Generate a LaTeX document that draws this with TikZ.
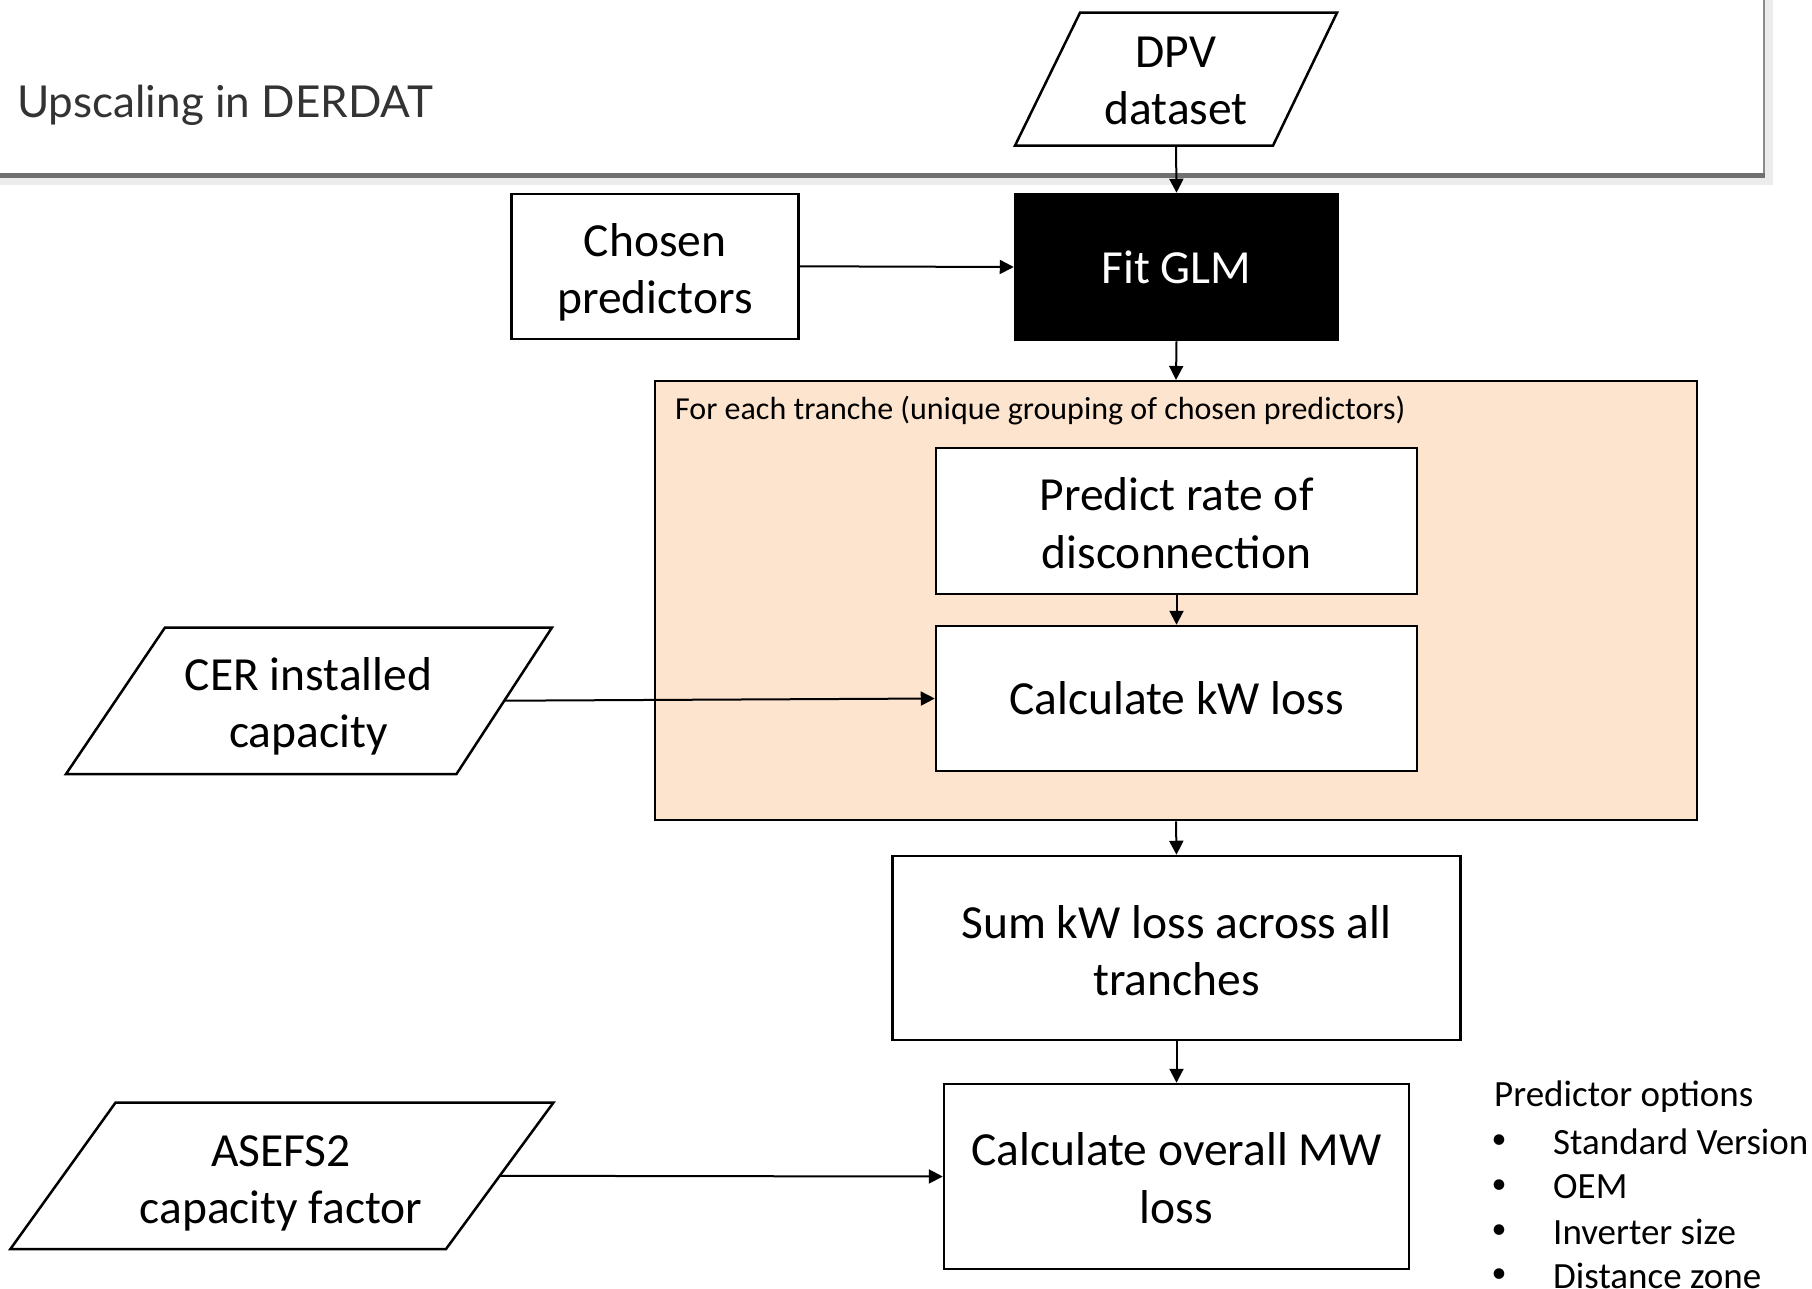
\documentclass[tikz,border=0pt]{standalone}
\usepackage{fontspec}
\setmainfont{Carlito}
\newfontfamily\headfont{Lato}
\usetikzlibrary{arrows.meta}
\definecolor{peach}{RGB}{253,228,206}
\definecolor{bandgray}{RGB}{112,112,112}
\definecolor{shadowgray}{RGB}{236,236,236}
\definecolor{edgegray}{RGB}{140,140,140}
\tikzset{
  boxstyle/.style={draw=black, line width=2.5pt, fill=white},
  txt/.style={font=\fontsize{47.5}{57.5}\selectfont, align=center, inner sep=0pt},
  conn/.style={line width=2pt, -{Triangle[length=14pt,width=14pt]}},
  smalltxt/.style={font=\fontsize{37}{45}\selectfont, inner sep=0pt, anchor=west},
  bulletstyle/.style={font=\fontsize{30}{45}\selectfont, inner sep=0pt}
}
\begin{document}
\begin{tikzpicture}[x=1pt,y=-1pt]
\useasboundingbox (0,0) rectangle (1812,1288);
% header panel
\fill[shadowgray] (0,178) rectangle (1765,185);
\fill[shadowgray] (1765,0) rectangle (1773,185);
\draw[edgegray, line width=1.5pt] (1764,0) -- (1764,173);
\fill[bandgray] (0,172.5) rectangle (1765,178);
\node[font=\headfont\fontsize{44}{52}\selectfont, text=black!80, anchor=west, inner sep=0pt] (title) at (17,105) {Upscaling in DERDAT};

% DPV dataset parallelogram
\draw[boxstyle] (1080,12.7) -- (1337,12.7) -- (1273,145.6) -- (1015,145.6) -- cycle;
\node[txt] (dpv) at (1176,81) {DPV\\dataset};
\coordinate (dpvS) at (1176,145.6);

% Chosen predictors
\node[boxstyle, minimum width=287pt, minimum height=145pt, inner sep=0pt] (chosenbox) at (655,266.3) {};
\node[txt] (chosen) at (655,272.2) {Chosen\\predictors};

% Fit GLM
\node[draw=black, fill=black, line width=2.5pt, minimum width=323pt, minimum height=146pt, inner sep=0pt, text=white, font=\fontsize{47.5}{57.5}\selectfont] (glm) at (1176.5,267) {Fit GLM};

% Tranche container
\node[draw=black, fill=peach, line width=2.5pt, minimum width=1042pt, minimum height=439pt, inner sep=0pt] (tranche) at (1176,600.7) {};
\node[font=\fontsize{32}{38}\selectfont, anchor=west, inner sep=0pt] (tranchelbl) at (675,411) {For each tranche (unique grouping of chosen predictors)};

% Predict
\node[boxstyle, minimum width=481pt, minimum height=146pt, inner sep=0pt] (predictbox) at (1176.5,521) {};
\node[txt] (predict) at (1176.5,523) {Predict rate of\\disconnection};

% Calculate kW loss
\node[boxstyle, minimum width=481pt, minimum height=145pt, inner sep=0pt, font=\fontsize{47.5}{57.5}\selectfont] (calc) at (1176.5,698.5) {Calculate kW loss};

% CER parallelogram
\draw[boxstyle] (165,627.5) -- (552,627.5) -- (456.5,774) -- (66,774) -- cycle;
\node[txt] (cer) at (308.5,706.1) {CER installed\\capacity};
\coordinate (cerE) at (504.3,700.7);

% Sum
\node[boxstyle, minimum width=568pt, minimum height=184pt, inner sep=0pt] (sumbox) at (1176.5,948) {};
\node[txt] (sum) at (1176.5,950.5) {Sum kW loss across all\\tranches};

% MW loss
\node[boxstyle, minimum width=465pt, minimum height=185pt, inner sep=0pt] (mwbox) at (1176.5,1176.5) {};
\node[txt] (mw) at (1176.5,1178) {Calculate overall MW\\loss};

% ASEFS2 parallelogram
\draw[boxstyle] (115.6,1102.5) -- (553.5,1102.5) -- (446,1249) -- (10.4,1249) -- cycle;
\node[txt] (asefs) at (281,1183.6) {ASEFS2\\capacity factor};
\coordinate (asefsE) at (499.7,1175.8);

% connectors
\draw[conn] (dpvS) -- (glm.north);
\draw[conn] (chosenbox.east) -- (glm.west);
\draw[conn] (glm.south) -- (tranche.north);
\draw[conn] (predictbox.south) -- (calc.north);
\draw[conn] (cerE) -- (calc.west);
\draw[conn] (tranche.south) -- (sumbox.north);
\draw[conn] (sumbox.south) -- (mwbox.north);
\draw[conn] (asefsE) -- (mwbox.west);

% predictor options
\node[smalltxt] (popt) at (1494,1096.5) {Predictor options};
\node[bulletstyle] (b1) at (1499,1141.5) {•};
\node[bulletstyle] (b2) at (1499,1186.6) {•};
\node[bulletstyle] (b3) at (1499,1231.7) {•};
\node[bulletstyle] (b4) at (1499,1275.6) {•};
\node[smalltxt] (o1) at (1553,1141.5) {Standard Version};
\node[smalltxt] (o2) at (1553,1186.6) {OEM};
\node[smalltxt] (o3) at (1553,1231.7) {Inverter size};
\node[smalltxt] (o4) at (1553,1275.6) {Distance zone};
\end{tikzpicture}
\end{document}
